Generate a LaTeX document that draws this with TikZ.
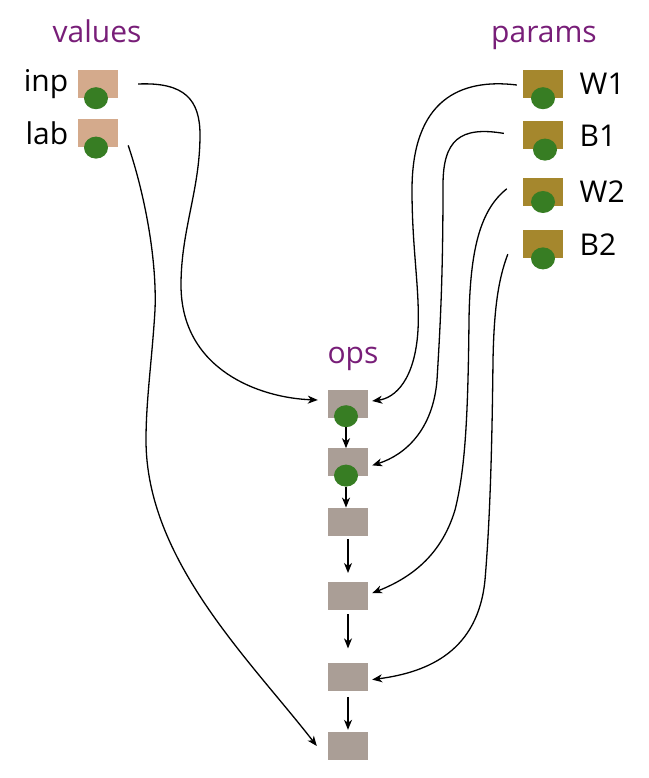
\documentclass[tikz,border=0pt]{standalone}
\usepackage{fontspec}
\setmainfont{Open Sans}
\usetikzlibrary{arrows.meta,positioning,shapes.geometric,calc}
\definecolor{valbrown}{RGB}{212,170,140}
\definecolor{parolive}{RGB}{165,135,45}
\definecolor{opgrey}{RGB}{170,158,150}
\definecolor{dotgreen}{RGB}{55,125,35}
\definecolor{grppurple}{RGB}{120,30,120}

\begin{document}
\begin{tikzpicture}[x=1pt,y=-1pt,every node/.style={font=\fontsize{30}{35}\selectfont}]
\tikzstyle{valbox}=[fill=valbrown,minimum width=40pt,minimum height=28pt,inner sep=0pt]
\tikzstyle{parbox}=[fill=parolive,minimum width=40pt,minimum height=28pt,inner sep=0pt]
\tikzstyle{opbox}=[fill=opgrey,minimum width=40pt,minimum height=28pt,inner sep=0pt]
\tikzstyle{blob}=[ellipse,fill=dotgreen,minimum width=24pt,minimum height=22pt,inner sep=0pt]
\tikzstyle{grp}=[text=grppurple,anchor=base]
\tikzstyle{lnk}=[-{Stealth[length=10pt,width=8pt,inset=3pt]},line width=1.3pt]
\useasboundingbox (0,0) rectangle (648,778);
\node[grp](values) at (97,43){values};
\node[grp](params) at (544,43){params};
\node[grp](ops) at (353,363){ops};
\node[valbox](inp) at (98,84){};
\node[valbox,below=21pt of inp](lab){};
\node[left=6pt of inp](inptxt){inp};
\node[left=6pt of lab](labtxt){lab};
\node[parbox](W1) at (543,84){};
\node[parbox,below=23pt of W1](B1){};
\node[parbox,below=28pt of B1](W2){};
\node[parbox,below=24pt of W2](B2){};
\node[right=13pt of W1](W1txt){W1};
\node[right=13pt of B1](B1txt){B1};
\node[right=13pt of W2](W2txt){W2};
\node[right=13pt of B2](B2txt){B2};
\node[opbox](op1) at (348,404){};
\node[opbox,below=30pt of op1](op2){};
\node[opbox,below=31pt of op2](op3){};
\node[opbox,below=46pt of op3](op4){};
\node[opbox,below=52pt of op4](op5){};
\node[opbox,below=41pt of op5](op6){};
\node[blob](inpdot) at ([xshift=-2pt]inp.south){};
\node[blob](labdot) at ([xshift=-2pt]lab.south){};
\node[blob](W1dot) at (W1.south){};
\node[blob](B1dot) at ([xshift=2pt]B1.south){};
\node[blob](W2dot) at ([yshift=4pt]W2.south){};
\node[blob](B2dot) at (B2.south){};
\node[blob](op1dot) at ([shift={(-2pt,2pt)}]op1.south){};
\node[blob](op2dot) at ([shift={(-2pt,1pt)}]op2.south){};
\draw[lnk](op1dot)--(op1dot|-op2.north);
\draw[lnk](op2dot)--(op2dot|-op3.north);
\draw[lnk,shorten <=3pt,shorten >=9pt](op3)--(op4);
\draw[lnk,shorten <=4pt,shorten >=14pt](op4)--(op5);
\draw[lnk,shorten <=6pt,shorten >=2pt](op5)--(op6);
\draw[lnk]([xshift=20pt]inp.east) .. controls (185,82) and (200,100) .. (200,135)
  .. controls (200,190) and (181,230) .. (181,285)
  .. controls (181,370) and (260,398) .. ([shift={(-10pt,4pt)}]op1.west);
\draw[lnk]([shift={(10pt,-12pt)}]lab.east) .. controls (145,195) and (157,260) .. (155,310)
  .. controls (152,360) and (146,400) .. (146,440)
  .. controls (146,560) and (250,660) .. ([xshift=-11pt]op6.west);
\draw[lnk]([shift={(-6pt,-1pt)}]W1.west) .. controls (460,78) and (412,100) .. (412,190)
  .. controls (412,250) and (420,290) .. (418,330)
  .. controls (415,380) and (395,398) .. ([shift={(4pt,3pt)}]op1.east);
\draw[lnk]([shift={(-19pt,2pt)}]B1.west) .. controls (460,126) and (443,140) .. (443,185)
  .. controls (443,280) and (440,330) .. (437,380)
  .. controls (433,430) and (405,455) .. ([shift={(4pt,-3pt)}]op2.east);
\draw[lnk]([shift={(-16pt,3pt)}]W2.west) .. controls (480,210) and (470,250) .. (469,320)
  .. controls (468,420) and (465,470) .. (455,510)
  .. controls (440,560) and (405,580) .. ([shift={(4pt,3pt)}]op4.east);
\draw[lnk]([shift={(-15pt,-10pt)}]B2.west) .. controls (498,280) and (494,310) .. (493,360)
  .. controls (492,450) and (490,520) .. (485,580)
  .. controls (478,650) and (430,672) .. ([shift={(4pt,-3pt)}]op5.east);
\end{tikzpicture}
\end{document}
